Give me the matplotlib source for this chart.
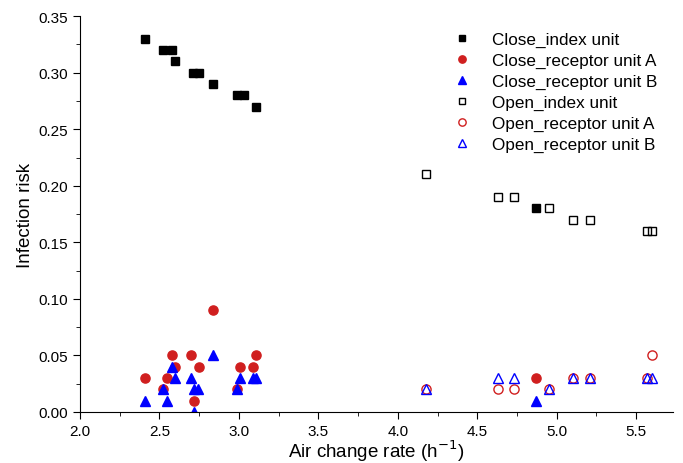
import matplotlib
matplotlib.use("Agg")
import matplotlib.pyplot as plt
from matplotlib.ticker import MultipleLocator

plt.rcParams['font.family'] = ['Liberation Sans', 'DejaVu Sans']

# Close (window closed) cases
close_index_x = [2.41, 2.52, 2.58, 2.60, 2.71, 2.75, 2.84, 2.99, 3.03, 3.11, 4.87]
close_index_y = [0.33, 0.32, 0.32, 0.31, 0.30, 0.30, 0.29, 0.28, 0.28, 0.27, 0.18]

close_recA_x = [2.41, 2.52, 2.55, 2.58, 2.60, 2.70, 2.72, 2.75, 2.84, 2.99, 3.01, 3.09, 3.11, 4.87]
close_recA_y = [0.03, 0.02, 0.03, 0.05, 0.04, 0.05, 0.01, 0.04, 0.09, 0.02, 0.04, 0.04, 0.05, 0.03]

close_recB_x = [2.41, 2.52, 2.55, 2.58, 2.60, 2.70, 2.72, 2.74, 2.72, 2.84, 2.99, 3.01, 3.09, 3.11, 4.87]
close_recB_y = [0.01, 0.02, 0.01, 0.04, 0.03, 0.03, 0.02, 0.02, 0.00, 0.05, 0.02, 0.03, 0.03, 0.03, 0.01]

# Open (window open) cases
open_index_x = [4.18, 4.63, 4.73, 4.95, 5.10, 5.21, 5.57, 5.60]
open_index_y = [0.21, 0.19, 0.19, 0.18, 0.17, 0.17, 0.16, 0.16]

open_recA_x = [4.18, 4.63, 4.73, 4.95, 5.10, 5.21, 5.57, 5.60]
open_recA_y = [0.02, 0.02, 0.02, 0.02, 0.03, 0.03, 0.03, 0.05]

open_recB_x = [4.18, 4.63, 4.73, 4.95, 5.10, 5.21, 5.57, 5.60]
open_recB_y = [0.02, 0.03, 0.03, 0.02, 0.03, 0.03, 0.03, 0.03]

red = '#d01f1f'
blue = '#0000ff'

fig = plt.figure(figsize=(6.83, 4.64), dpi=100)
ax = fig.add_axes([0.117, 0.110, 0.868, 0.853])

ax.plot(close_index_x, close_index_y, 's', color='black', ms=5.8, label='Close_index unit')
ax.plot(close_recA_x, close_recA_y, 'o', color=red, ms=6.6, label='Close_receptor unit A')
ax.plot(close_recB_x, close_recB_y, '^', color=blue, ms=7, label='Close_receptor unit B')
ax.plot(open_index_x, open_index_y, 's', mfc='none', mec='black', mew=1, ms=5.5, label='Open_index unit')
ax.plot(open_recA_x, open_recA_y, 'o', mfc='none', mec=red, mew=1, ms=6.6, label='Open_receptor unit A')
ax.plot(open_recB_x, open_recB_y, '^', mfc='none', mec=blue, mew=1, ms=7, label='Open_receptor unit B')

ax.set_xlim(2.0, 5.73)
ax.set_ylim(0, 0.35)
ax.xaxis.set_major_locator(MultipleLocator(0.5))
ax.xaxis.set_minor_locator(MultipleLocator(0.25))
ax.yaxis.set_major_locator(MultipleLocator(0.05))
ax.yaxis.set_minor_locator(MultipleLocator(0.025))
ax.xaxis.set_major_formatter(plt.FormatStrFormatter('%.1f'))
ax.yaxis.set_major_formatter(plt.FormatStrFormatter('%.2f'))

ax.spines['top'].set_visible(False)
ax.spines['right'].set_visible(False)
ax.tick_params(which='both', direction='out', labelsize=11)
ax.tick_params(which='major', length=5)
ax.tick_params(which='minor', length=3)

ax.set_xlabel('Air change rate (h$^{-1}$)', fontsize=13.5, labelpad=0)
ax.set_ylabel('Infection risk', fontsize=13.5, labelpad=3)

ax.legend(loc='upper right', bbox_to_anchor=(1.0, 1.0), frameon=False, fontsize=12.3,
          handletextpad=1.0, labelspacing=0.35, markerscale=0.8, handlelength=1.5)

fig.savefig('out.png', dpi=100)
